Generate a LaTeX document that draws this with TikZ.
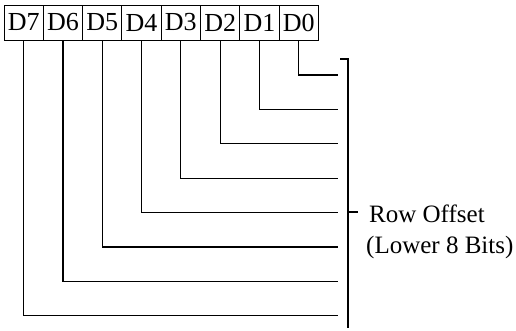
\documentclass[tikz,border=0pt]{standalone}
\usepackage{fontspec}
\setmainfont{Liberation Serif}
\begin{document}
\begin{tikzpicture}[x=1pt,y=-1pt,
  bitbox/.style={draw,line width=1pt,rectangle,minimum width=39.3pt,minimum height=35pt,inner sep=0pt,font=\fontsize{26}{30}\selectfont},
  wire/.style={line width=1.2pt},
  lbl/.style={inner sep=0pt,font=\fontsize{25}{30}\selectfont}]
\useasboundingbox (0,0) rectangle (516,330);
\foreach \n [count=\i from 0] in {7,6,5,4,3,2,1,0}{
  \node[bitbox] (d\n) at ({4+39.3*(\i+0.5)},22.5) {D\n};
}
\foreach \n [count=\k from 0] in {0,1,2,3,4,5,6,7}{
  \coordinate (e\n) at (338,{75+34.4*\k});
  \draw[wire] (d\n.south) |- (e\n);
}
\coordinate (bt) at (348,59);
\coordinate (bb) at (348,328);
\coordinate (btl) at (340,59);
\coordinate (bm) at (348,212);
\coordinate (bmr) at (358,212);
\draw[wire] (btl) -- (bt) -- (bb);
\draw[wire] (bm) -- (bmr);
\node[lbl,anchor=base west] (ro) at (369,222) {Row Offset};
\node[lbl,anchor=base west] (lb) at (366,253) {(Lower 8 Bits)};
\end{tikzpicture}
\end{document}
